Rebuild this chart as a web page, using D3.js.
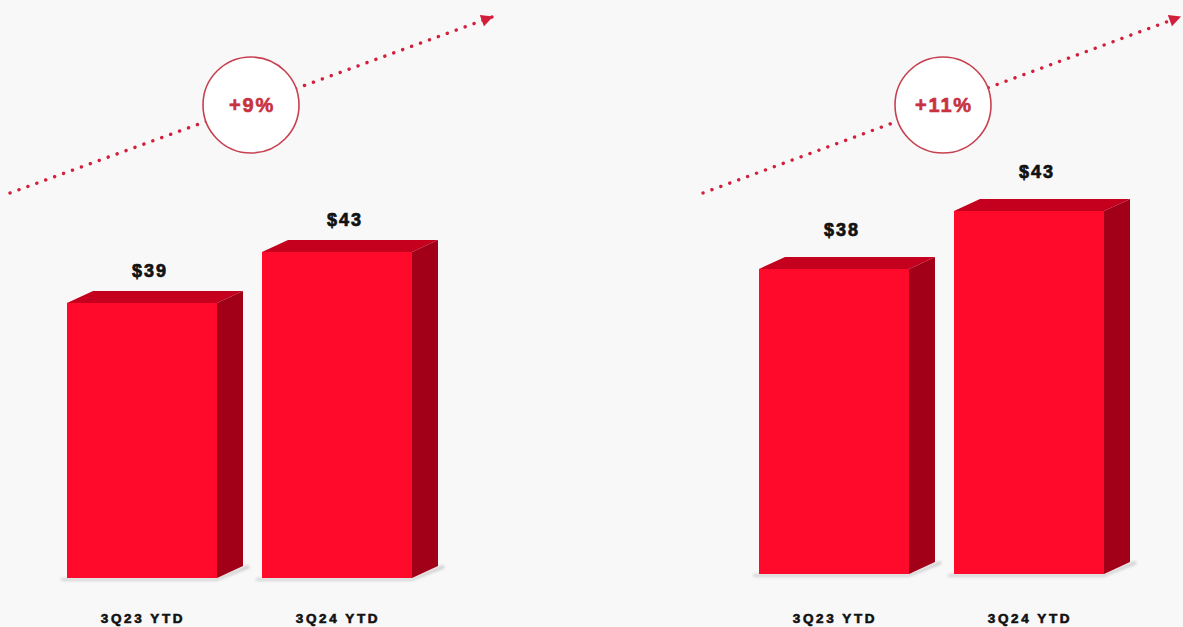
<!DOCTYPE html>
<html>
<head>
<meta charset="utf-8">
<script src="https://cdn.jsdelivr.net/npm/d3@7/dist/d3.min.js"></script>
<style>
  html, body { margin: 0; padding: 0; background: #f8f8f8; }
  svg { display: block; }
</style>
</head>
<body>
<svg id="chart" width="1183" height="627"></svg>
<script>
// Period labels shared by both panels
const categories = ["3Q23 YTD", "3Q24 YTD"];
// Left panel values ($)
const leftValues = [39, 43];
// Right panel values ($)
const rightValues = [38, 43];
// Growth call-outs
const growthLabels = ["+9%", "+11%"];
// Lower end of each panel's value axis (axes are truncated)
const axisFloors = [17.4, 11.7];

const svg = d3.select("#chart");
const W = 1183, H = 627;

svg.append("rect").attr("width", W).attr("height", H).attr("fill", "#f8f8f8");

const defs = svg.append("defs");
defs.append("marker")
  .attr("id", "arrowHead")
  .attr("viewBox", "0 0 10 10")
  .attr("refX", 9).attr("refY", 5)
  .attr("markerWidth", 14).attr("markerHeight", 12)
  .attr("markerUnits", "userSpaceOnUse")
  .attr("orient", "auto")
  .append("path").attr("d", "M0,0 L10,5 L0,10 Z").attr("fill", "#d21f3c");

defs.append("filter").attr("id", "softShadow")
  .attr("x", "-10%").attr("y", "-200%").attr("width", "120%").attr("height", "500%")
  .append("feGaussianBlur").attr("stdDeviation", 1.6);

const colors = { front: "#ff0a2b", top: "#c4001e", side: "#a20019" };
const depth = { dx: 26, dy: -12 };
const fontFamily = "'Liberation Sans', Arial, sans-serif";

const panels = [
  { values: leftValues,  growth: growthLabels[0], floor: axisFloors[0],
    x0: 67,  bottom: 578, top: 252, labelGap: 14,
    arrow: [[10, 193], [492, 17]], circle: [251, 105] },
  { values: rightValues, growth: growthLabels[1], floor: axisFloors[1],
    x0: 759, bottom: 574, top: 211, labelGap: 21,
    arrow: [[703, 193], [1180, 17]], circle: [943, 105] }
];

panels.forEach(p => {
  const g = svg.append("g");

  const x = d3.scaleBand()
    .domain(categories)
    .range([p.x0, p.x0 + 345])
    .paddingInner(45 / 195)
    .paddingOuter(0);

  const y = d3.scaleLinear()
    .domain([p.floor, d3.max(p.values)])
    .range([p.bottom, p.top]);

  // dotted trend arrow
  const line = d3.line();
  g.append("path")
    .attr("d", line(p.arrow))
    .attr("fill", "none")
    .attr("stroke", "#d21f3c")
    .attr("stroke-width", 3.4)
    .attr("stroke-linecap", "round")
    .attr("stroke-dasharray", "0.1 9.4")
    .attr("marker-end", "url(#arrowHead)");

  // growth badge
  g.append("circle")
    .attr("cx", p.circle[0]).attr("cy", p.circle[1]).attr("r", 48)
    .attr("fill", "#ffffff")
    .attr("stroke", "#c8404f")
    .attr("stroke-width", 1.6);
  g.append("text")
    .attr("x", p.circle[0] + 1).attr("y", p.circle[1] + 7)
    .attr("text-anchor", "middle")
    .attr("font-family", fontFamily)
    .attr("font-weight", "bold")
    .attr("font-size", 20)
    .attr("letter-spacing", 1.8)
    .attr("fill", "#c8323f")
    .attr("stroke", "#c8323f").attr("stroke-width", 0.6)
    .text(p.growth);

  const bars = g.selectAll("g.bar")
    .data(categories.map((c, i) => ({ cat: c, value: p.values[i] })))
    .join("g").attr("class", "bar");

  // ground shadow
  bars.append("path")
    .attr("d", d => {
      const x0 = x(d.cat), x1 = x0 + x.bandwidth();
      return `M${x0 - 6},${p.bottom + 0.5} L${x1},${p.bottom + 0.5} L${x1 + depth.dx + 6},${p.bottom + depth.dy - 1} L${x1 + depth.dx + 6},${p.bottom + depth.dy + 2} L${x1},${p.bottom + 2.5} L${x0 - 6},${p.bottom + 2.5} Z`;
    })
    .attr("fill", "#9a9a9a")
    .attr("opacity", 0.55)
    .attr("filter", "url(#softShadow)");

  // front face
  bars.append("rect")
    .attr("x", d => x(d.cat))
    .attr("y", d => y(d.value))
    .attr("width", x.bandwidth())
    .attr("height", d => p.bottom - y(d.value))
    .attr("fill", colors.front);

  // top face
  bars.append("path")
    .attr("d", d => {
      const x0 = x(d.cat), x1 = x0 + x.bandwidth(), yt = y(d.value);
      return `M${x0},${yt} L${x0 + depth.dx},${yt + depth.dy} L${x1 + depth.dx},${yt + depth.dy} L${x1},${yt} Z`;
    })
    .attr("fill", colors.top);

  // side face
  bars.append("path")
    .attr("d", d => {
      const x1 = x(d.cat) + x.bandwidth(), yt = y(d.value);
      return `M${x1},${yt} L${x1 + depth.dx},${yt + depth.dy} L${x1 + depth.dx},${p.bottom + depth.dy} L${x1},${p.bottom} Z`;
    })
    .attr("fill", colors.side);

  // value labels
  bars.append("text")
    .attr("x", d => x(d.cat) + x.bandwidth() / 2 + 8)
    .attr("y", d => y(d.value) + depth.dy - p.labelGap)
    .attr("text-anchor", "middle")
    .attr("font-family", fontFamily)
    .attr("font-weight", "bold")
    .attr("font-size", 18)
    .attr("letter-spacing", 2)
    .attr("fill", "#111111")
    .attr("stroke", "#111111").attr("stroke-width", 0.7)
    .text(d => "$" + d.value);

  // category labels
  bars.append("text")
    .attr("x", d => x(d.cat) + x.bandwidth() / 2 + 1)
    .attr("y", 623)
    .attr("text-anchor", "middle")
    .attr("font-family", fontFamily)
    .attr("font-weight", "bold")
    .attr("font-size", 13.5)
    .attr("letter-spacing", 2.6)
    .attr("fill", "#111111")
    .attr("stroke", "#111111").attr("stroke-width", 0.6)
    .text(d => d.cat);
});
</script>
</body>
</html>
